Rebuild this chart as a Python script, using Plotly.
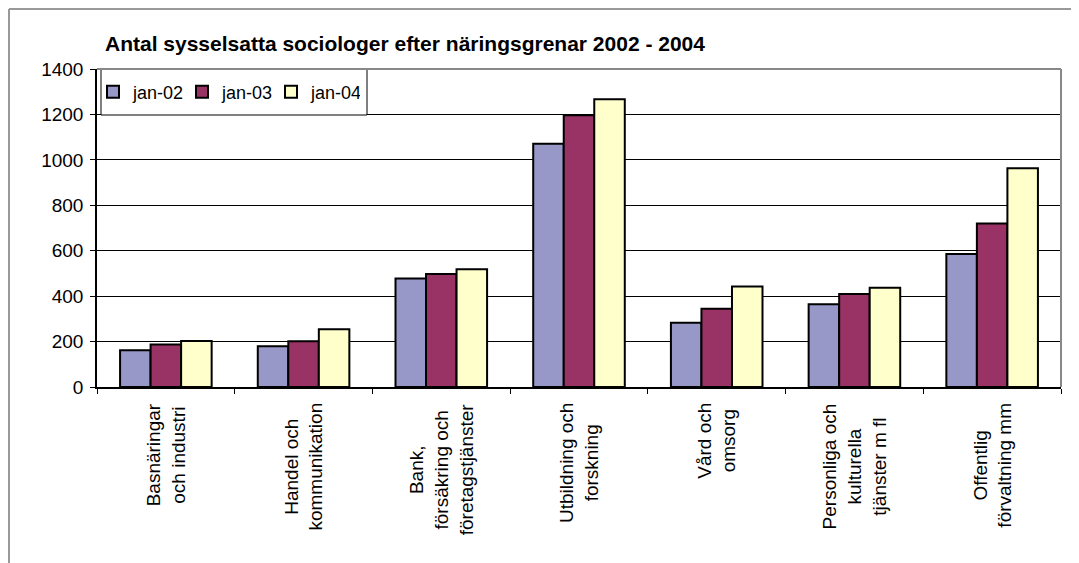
import plotly.graph_objects as go

categories = [
    "Basnäringar<br>och industri",
    "Handel och<br>kommunikation",
    "Bank,<br>försäkring och<br>företagstjänster",
    "Utbildning och<br>forskning",
    "Vård och<br>omsorg",
    "Personliga och<br>kulturella<br>tjänster m fl",
    "Offentlig<br>förvaltning mm",
]
series_names = ["jan-02", "jan-03", "jan-04"]
jan02 = [162, 179, 478, 1071, 283, 364, 585]
jan03 = [187, 201, 498, 1196, 345, 409, 720]
jan04 = [203, 254, 518, 1267, 442, 437, 963]
y_ticks = [0, 200, 400, 600, 800, 1000, 1200, 1400]
title_text = "Antal sysselsatta sociologer efter näringsgrenar 2002 - 2004"

colors = ["#9797C8", "#993366", "#FFFFCC"]
FONT = "Liberation Sans, Arial, sans-serif"

# plot area in figure pixels
L, R, T, B = 89, 26, 61, 184
W, H = 1079, 563
PW = W - L - R
PH = H - T - B

def px_x(px):
    return (px - L) / PW

def px_y(py):
    return (H - B - py) / PH

fig = go.Figure()
for name, vals, col in zip(series_names, [jan02, jan03, jan04], colors):
    fig.add_trace(go.Bar(
        x=categories, y=vals, name=name,
        marker=dict(color=col, line=dict(color="black", width=2)),
    ))

fig.update_layout(
    width=W, height=H,
    margin=dict(l=L, r=R, t=T, b=B),
    paper_bgcolor="white", plot_bgcolor="white",
    barmode="group", bargap=0.335, bargroupgap=0,
    font=dict(family=FONT, size=18, color="black"),
    title=dict(text="<b>" + title_text + "</b>", font=dict(family=FONT, size=21, color="black"),
               xref="paper", x=px_x(97), xanchor="left",
               yref="container", y=1 - 36 / H, yanchor="middle"),
    showlegend=True,
    legend=dict(orientation="h", x=px_x(85), y=px_y(84), xanchor="left", yanchor="middle",
                bgcolor="rgba(0,0,0,0)", borderwidth=0,
                font=dict(family=FONT, size=18, color="black"),
                itemwidth=30, entrywidth=44, entrywidthmode="pixels", tracegroupgap=0),
)

fig.update_yaxes(range=[0, 1400], tickvals=y_ticks, ticktext=[str(v) for v in y_ticks],
                 showgrid=True, gridcolor="black", gridwidth=1,
                 showline=True, linecolor="black", linewidth=1.5,
                 ticks="outside", ticklen=5, tickcolor="black", tickwidth=1,
                 ticklabelstandoff=3, zeroline=False, automargin=False,
                 tickfont=dict(family=FONT, size=19, color="black"))
fig.update_xaxes(showticklabels=False, showline=True, linecolor="black", linewidth=1.5,
                 ticks="outside", ticklen=5, tickcolor="black", tickson="boundaries",
                 showgrid=False, automargin=False)

# category labels as centered, rotated annotations
for c in categories:
    fig.add_annotation(x=c, y=0, xref="x", yref="paper", text=c, showarrow=False,
                       textangle=-90, align="center", xanchor="center", yanchor="top",
                       yshift=-14, font=dict(family=FONT, size=19, color="black"))

# legend box
fig.add_shape(type="rect", xref="paper", yref="paper",
              x0=px_x(93), x1=px_x(359), y0=px_y(107), y1=1,
              line=dict(color="black", width=1), fillcolor="white", layer="above")
# plot-area border (top/right in grey)
fig.add_shape(type="line", xref="paper", yref="paper", x0=0, x1=1, y0=1, y1=1,
              line=dict(color="#888888", width=2), layer="above")
fig.add_shape(type="line", xref="paper", yref="paper", x0=1, x1=1, y0=0, y1=1,
              line=dict(color="#888888", width=2), layer="above")
# outer chart frame (left and top visible)
fig.add_shape(type="line", xref="paper", yref="paper", x0=px_x(1), x1=px_x(W + 5),
              y0=px_y(1), y1=px_y(1), line=dict(color="#999999", width=2))
fig.add_shape(type="line", xref="paper", yref="paper", x0=px_x(1), x1=px_x(1),
              y0=px_y(1), y1=px_y(H + 5), line=dict(color="#999999", width=2))

fig.write_html("out.html")
